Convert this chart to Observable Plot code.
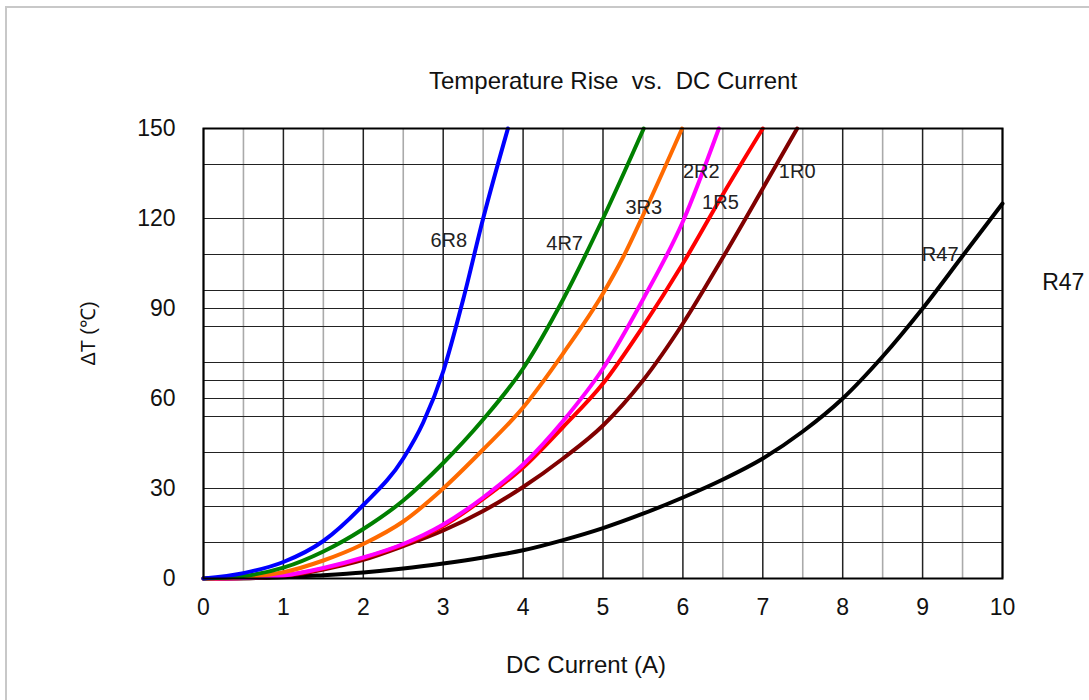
<!DOCTYPE html>
<html>
<head>
<meta charset="utf-8">
<script src="https://cdn.jsdelivr.net/npm/d3@7"></script>
<script src="https://cdn.jsdelivr.net/npm/@observablehq/plot@0.6"></script>
<style>
  html, body { margin: 0; padding: 0; background: #fff; overflow: hidden; }
  #wrap { position: relative; width: 1089px; height: 700px; }
  #border { position: absolute; left: 5px; top: 6px; width: 3000px; height: 3000px;
            border-left: 2px solid #c8c8c8; border-top: 2px solid #c8c8c8; pointer-events: none; }
</style>
</head>
<body>
<div id="wrap"><div id="border"></div></div>
<script>
// ---- data ----
const seriesNames  = ["R47", "1R0", "1R5", "2R2", "3R3", "4R7", "6R8"];
const seriesColors = ["#000000", "#800000", "#ff0000", "#ff00ff", "#ff6a00", "#008000", "#0000ff"];

const current6R8 = [0, 0.5, 1, 1.5, 2, 2.5, 2.75, 3, 3.25, 3.5, 3.81];
const temp6R8    = [0, 1.8, 5.5, 12.5, 24.5, 40, 52, 69, 93, 120, 150];

const current4R7 = [0, 0.5, 1, 1.5, 2, 2.5, 3, 3.5, 4, 4.5, 5, 5.51];
const temp4R7    = [0, 0.8, 3.6, 9, 16.5, 26, 38.5, 53, 70, 93, 120, 150];

const current3R3 = [0, 0.5, 1, 1.5, 2, 2.5, 3, 3.5, 4, 4.5, 5, 5.25, 5.5, 5.99];
const temp3R3    = [0, 0.5, 2.1, 6, 11.5, 19, 30, 43, 57, 75, 95, 107, 121, 150];

const current2R2 = [0, 0.5, 1, 1.5, 2, 2.5, 3, 3.5, 4, 4.5, 5, 5.5, 6, 6.45];
const temp2R2    = [0, 0.2, 1, 3.5, 7, 11.5, 18, 27, 38, 52.5, 70, 93, 119, 150];

const current1R5 = [0, 0.5, 1, 1.5, 2, 2.5, 3, 3.5, 4, 4.5, 5, 5.5, 6, 6.5, 7];
const temp1R5    = [0, 0.2, 1, 3.3, 6.8, 11.3, 17.5, 26.5, 37, 50.5, 65, 84, 105, 128, 150];

const current1R0 = [0, 0.5, 1, 1.5, 2, 2.5, 3, 3.5, 4, 4.5, 5, 5.5, 6, 6.5, 7, 7.43];
const temp1R0    = [0, 0.1, 0.8, 3, 6.2, 10.8, 16, 22.5, 30.5, 40, 51, 66, 85, 107, 130, 150];

const currentR47 = [0, 1, 1.5, 2, 2.5, 3, 3.5, 4, 4.5, 5, 5.5, 6, 6.5, 7, 7.5, 8, 8.5, 9, 9.5, 10];
const tempR47    = [0, 0.4, 1.1, 2, 3.3, 5, 7, 9.4, 12.8, 16.8, 21.6, 27, 33, 40, 49, 60, 74, 90, 107.5, 125];

const xTicks    = [0, 1, 2, 3, 4, 5, 6, 7, 8, 9, 10];
const xHalf     = [0.5, 1.5, 2.5, 3.5, 4.5, 5.5, 6.5, 7.5, 8.5, 9.5];
const yTicks    = [0, 30, 60, 90, 120, 150];
const yGrid     = [0, 12, 24, 30, 42, 54, 60, 66, 72, 84, 90, 96, 108, 120, 138, 150];

const labelNames   = ["6R8", "4R7", "3R3", "2R2", "1R5", "1R0", "R47"];
const labelCurrent = [3.07, 4.52, 5.51, 6.23, 6.47, 7.43, 9.22];
const labelTemp    = [112.7, 111.7, 123.7, 135.7, 125.3, 135.7, 108];

const outerLabel = ["R47"];
const outerLabelCurrent = [10.76];
const outerLabelTemp = [98.7];

const titleText  = "Temperature Rise\u00a0 vs.\u00a0 DC Current";
const xLabelText = "DC Current (A)";
const yLabelText = "ΔT (℃)";

// ---- build table ----
const seriesData = {
  "6R8": [current6R8, temp6R8], "4R7": [current4R7, temp4R7], "3R3": [current3R3, temp3R3],
  "2R2": [current2R2, temp2R2], "1R5": [current1R5, temp1R5], "1R0": [current1R0, temp1R0],
  "R47": [currentR47, tempR47]
};
const table = [];
for (const name of seriesNames) {
  const [cs, ts] = seriesData[name];
  cs.forEach((c, i) => table.push({name, current: c, temp: ts[i]}));
}

const font = "'Liberation Sans', Arial, sans-serif";

const chart = Plot.plot({
  width: 1089, height: 700,
  marginLeft: 203, marginRight: 87, marginTop: 128, marginBottom: 122,
  style: {fontFamily: font, background: "transparent", color: "#111"},
  x: {domain: [0, 10]},
  y: {domain: [0, 150]},
  color: {domain: seriesNames, range: seriesColors},
  marks: [
    Plot.ruleX(xHalf, {stroke: "#aaaaaa", strokeWidth: 1.6}),
    Plot.ruleX(xTicks, {stroke: "#222", strokeWidth: 1.5}),
    Plot.ruleY(yGrid, {stroke: "#222", strokeWidth: 1.2}),
    Plot.line(table, {x: "current", y: "temp", stroke: "name", strokeWidth: 4, curve: "monotone-x"}),
    Plot.frame({stroke: "#000", strokeWidth: 2}),
    Plot.axisX(xTicks, {tickSize: 0, tickPadding: 20, fontSize: 23, label: null, fill: "#111"}),
    Plot.axisY(yTicks, {tickSize: 0, tickPadding: 28, fontSize: 23, label: null, fill: "#111"}),
    Plot.text(labelNames, {x: (d, i) => labelCurrent[i], y: (d, i) => labelTemp[i], text: d => d,
                           fontSize: 20, fill: "#222"}),
    Plot.text(outerLabel, {x: (d, i) => outerLabelCurrent[i], y: (d, i) => outerLabelTemp[i], text: d => d,
                           fontSize: 23, fill: "#111", clip: false}),
    Plot.text([titleText], {frameAnchor: "top", dx: 10, dy: -57, fontSize: 24, fill: "#111"}),
    Plot.text([xLabelText], {frameAnchor: "bottom", dx: -17, dy: 94, fontSize: 24, fill: "#111"}),
    Plot.text([yLabelText], {frameAnchor: "left", textAnchor: "middle", dx: -115, dy: -20, rotate: -90,
                             fontSize: 20, fill: "#111"})
  ]
});
chart.style.position = "absolute";
chart.style.left = "0px";
chart.style.top = "0px";
chart.style.overflow = "visible";
document.getElementById("wrap").appendChild(chart);
</script>
</body>
</html>
